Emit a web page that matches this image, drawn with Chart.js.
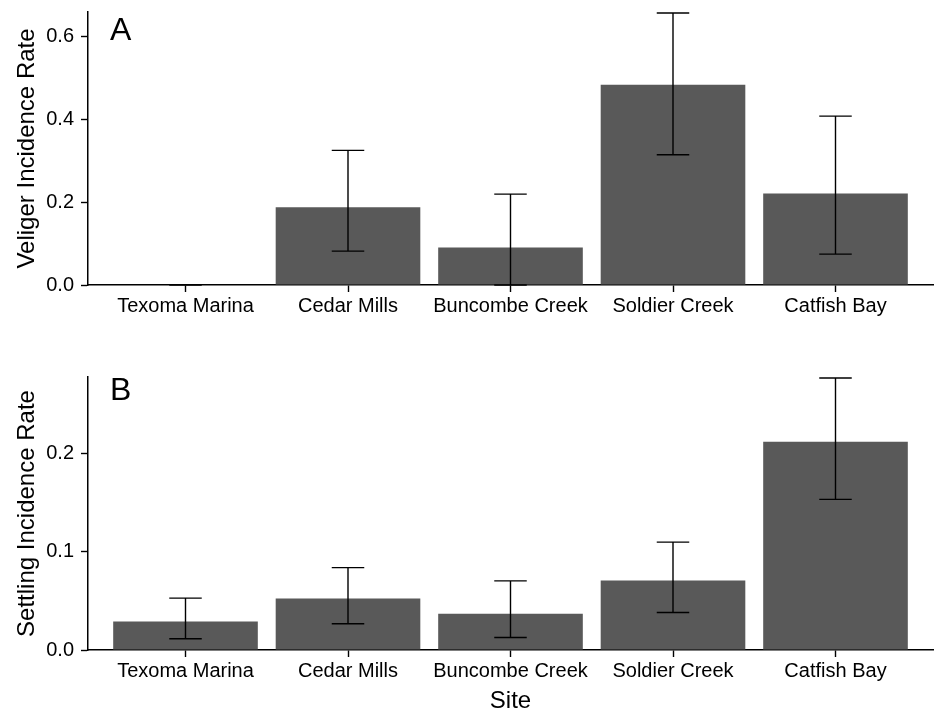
<!DOCTYPE html>
<html>
<head>
<meta charset="utf-8">
<script src="https://cdn.jsdelivr.net/npm/chart.js@4"></script>
<style>
  body { margin: 0; background: #fff; }
  canvas { display: block; }
</style>
</head>
<body>
<canvas id="chartA" width="936" height="340"></canvas>
<canvas id="chartB" width="936" height="373"></canvas>
<script>
var sites = ['Texoma Marina', 'Cedar Mills', 'Buncombe Creek', 'Soldier Creek', 'Catfish Bay'];

// panel A - veliger incidence
var veligerRate = [0, 0.1875, 0.0905, 0.4824, 0.2205];
var veligerLow = [0, 0.0817, 0, 0.314, 0.0745];
var veligerHigh = [0, 0.3245, 0.219, 0.6555, 0.407];
var veligerTicks = [0, 0.2, 0.4, 0.6];

// panel B - settling incidence
var settlingRate = [0.0291, 0.0525, 0.0369, 0.0708, 0.2122];
var settlingLow = [0.0115, 0.0268, 0.0128, 0.0383, 0.1536];
var settlingHigh = [0.0529, 0.084, 0.0705, 0.110, 0.2773];
var settlingTicks = [0, 0.1, 0.2];

Chart.defaults.color = '#000';
Chart.defaults.font.family = "'Liberation Sans', Arial, sans-serif";

// draws the error bars and the panel letter
var extras = {
  id: 'extras',
  afterDatasetsDraw: function(chart, args, opts) {
    var ctx = chart.ctx;
    var x = chart.scales.x, y = chart.scales.y;
    var half = x.getPixelForValue(1.1) - x.getPixelForValue(1);
    ctx.save();
    ctx.strokeStyle = '#000';
    ctx.lineWidth = 1.4;
    for (var i = 0; i < opts.low.length; i++) {
      var px = x.getPixelForValue(i + 1);
      var lo = y.getPixelForValue(opts.low[i]);
      var hi = y.getPixelForValue(opts.high[i]);
      ctx.beginPath();
      ctx.moveTo(px, lo); ctx.lineTo(px, hi);
      ctx.moveTo(px - half, lo); ctx.lineTo(px + half, lo);
      ctx.moveTo(px - half, hi); ctx.lineTo(px + half, hi);
      ctx.stroke();
    }
    ctx.fillStyle = '#000';
    ctx.font = "32px 'Liberation Sans', Arial, sans-serif";
    ctx.textBaseline = 'alphabetic';
    ctx.fillText(opts.letter, chart.chartArea.left + 22, opts.letterY);
    ctx.restore();
  }
};

function makeChart(id, rate, low, high, ticks, yMax, yTitle, letter, letterY, pad, xHeight, showSite) {
  return new Chart(document.getElementById(id), {
    type: 'bar',
    data: {
      datasets: [{
        data: rate.map(function(v, i) { return {x: i + 1, y: v}; }),
        backgroundColor: '#595959',
        borderWidth: 0,
        barPercentage: 0.89,
        categoryPercentage: 1
      }]
    },
    options: {
      responsive: false,
      animation: false,
      layout: { padding: pad },
      plugins: {
        legend: { display: false },
        tooltip: { enabled: false },
        extras: { low: low, high: high, letter: letter, letterY: letterY }
      },
      scales: {
        x: {
          type: 'linear',
          min: 0.4,
          max: 5.6,
          offset: false,
          afterBuildTicks: function(s) { s.ticks = sites.map(function(n, i) { return {value: i + 1}; }); },
          afterFit: function(s) { s.height = xHeight; },
          ticks: {
            autoSkip: false,
            maxRotation: 0,
            padding: 2,
            font: { size: 20 },
            color: '#000',
            callback: function(v) { return sites[v - 1]; }
          },
          grid: { offset: false, drawOnChartArea: false, tickLength: 7, tickColor: '#000', tickWidth: 1.4 },
          border: { display: true, color: '#000', width: 1.5 },
          title: {
            display: showSite,
            text: 'Site',
            font: { size: 24, lineHeight: 1 },
            color: '#000',
            padding: { top: 0, bottom: 0 }
          }
        },
        y: {
          min: 0,
          max: yMax,
          afterBuildTicks: function(s) { s.ticks = ticks.map(function(v) { return {value: v}; }); },
          afterFit: function(s) { s.width = 88; s.paddingTop = 0; s.paddingBottom = 0; },
          ticks: {
            padding: 7,
            font: { size: 20 },
            color: '#000',
            callback: function(v) { return v.toFixed(1); }
          },
          grid: { drawOnChartArea: false, tickLength: 7, tickColor: '#000', tickWidth: 1.4 },
          border: { display: true, color: '#000', width: 1.5 },
          title: {
            display: true,
            text: yTitle,
            font: { size: 24, lineHeight: 1 },
            color: '#000',
            padding: { top: 15, bottom: 0 }
          }
        }
      }
    },
    plugins: [extras]
  });
}

makeChart('chartA', veligerRate, veligerLow, veligerHigh, veligerTicks, 0.658,
  'Veliger Incidence Rate', 'A', 40, { top: 12, right: 3, left: 0, bottom: 0 }, 55, false);
makeChart('chartB', settlingRate, settlingLow, settlingHigh, settlingTicks, 0.2783,
  'Settling Incidence Rate', 'B', 60, { top: 37, right: 3, left: 0, bottom: 0 }, 63, true);
</script>
</body>
</html>
